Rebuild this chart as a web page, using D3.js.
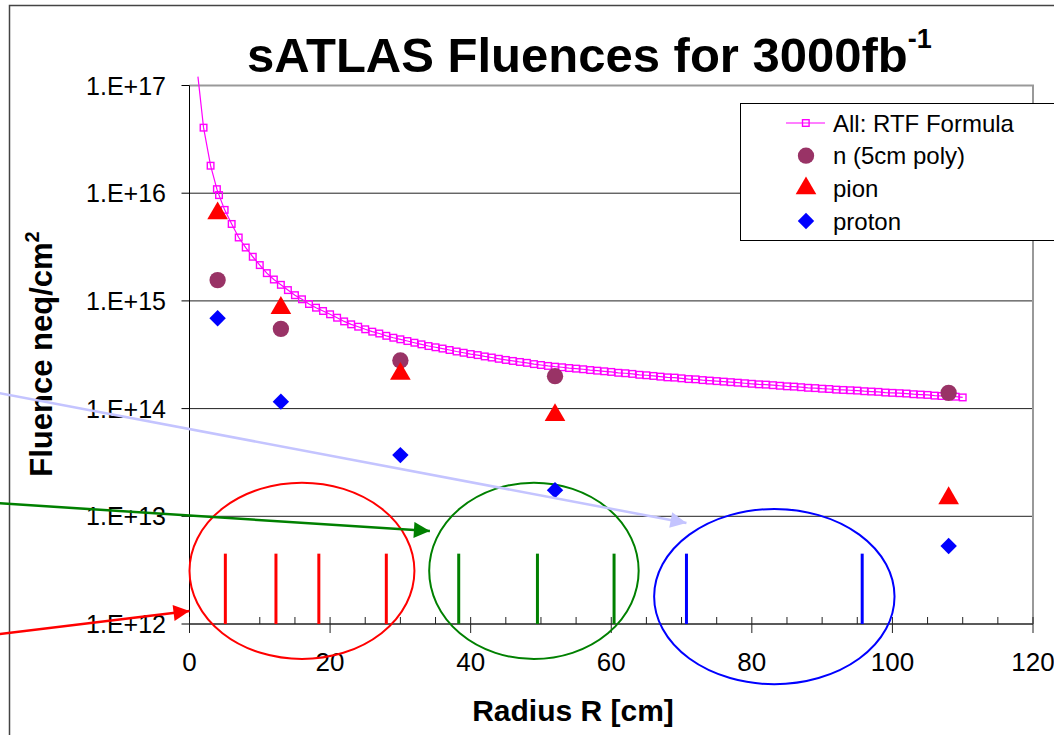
<!DOCTYPE html>
<html lang="en">
<head>
<meta charset="utf-8">
<script src="https://d3js.org/d3.v7.min.js"></script>
<style>
    body { margin: 0; background: #fff; }
    svg text { font-family: "Liberation Sans", Arial, sans-serif; }
</style>
</head>
<body>
<svg id="chart" width="1054" height="735"></svg>
<script>
    // RTF formula curve (radius in cm, fluence in neq/cm^2)
    var rtfR = [1.2, 2, 3, 3.9, 4.2, 5, 6, 7, 8, 9, 10, 11, 12, 13, 14, 15, 16, 17, 18, 19, 20,
        21, 22, 23, 24, 25, 26, 27, 28, 29, 30, 31, 32, 33, 34, 35, 36, 37, 38, 39, 40,
        41, 42, 43, 44, 45, 46, 47, 48, 49, 50, 51, 52, 53, 54, 55, 56, 57, 58, 59, 60,
        61, 62, 63, 64, 65, 66, 67, 68, 69, 70, 71, 72, 73, 74, 75, 76, 77, 78, 79, 80,
        81, 82, 83, 84, 85, 86, 87, 88, 89, 90, 91, 92, 93, 94, 95, 96, 97, 98, 99, 100,
        101, 102, 103, 104, 105, 106, 107, 108, 109, 110];
    var rtfFluence = [1.21e17, 4.06e16, 1.80e16, 1.09e16, 9.6e15, 7.0e15, 5.18e15, 3.88e15, 3.13e15, 2.57e15, 2.15e15,
        1.81e15, 1.58e15, 1.41e15, 1.26e15, 1.13e15, 1.035e15, 9.36e14, 8.65e14, 8.06e14, 7.51e14,
        6.98e14, 6.45e14, 6.06e14, 5.76e14, 5.45e14, 5.18e14, 4.98e14, 4.74e14, 4.55e14, 4.40e14,
        4.24e14, 4.09e14, 3.95e14, 3.81e14, 3.71e14, 3.61e14, 3.50e14, 3.39e14, 3.30e14, 3.21e14,
        3.14e14, 3.05e14, 2.98e14, 2.90e14, 2.83e14, 2.77e14, 2.71e14, 2.66e14, 2.59e14, 2.54e14,
        2.49e14, 2.45e14, 2.42e14, 2.38e14, 2.35e14, 2.32e14, 2.28e14, 2.25e14, 2.22e14, 2.19e14,
        2.15e14, 2.13e14, 2.10e14, 2.06e14, 2.04e14, 2.01e14, 1.98e14, 1.95e14, 1.94e14, 1.91e14,
        1.88e14, 1.87e14, 1.84e14, 1.82e14, 1.80e14, 1.78e14, 1.76e14, 1.74e14, 1.72e14, 1.70e14,
        1.68e14, 1.67e14, 1.65e14, 1.63e14, 1.61e14, 1.60e14, 1.58e14, 1.56e14, 1.55e14, 1.53e14,
        1.52e14, 1.50e14, 1.49e14, 1.48e14, 1.47e14, 1.45e14, 1.44e14, 1.43e14, 1.41e14, 1.40e14,
        1.39e14, 1.38e14, 1.36e14, 1.35e14, 1.34e14, 1.32e14, 1.31e14, 1.30e14, 1.29e14, 1.27e14];

    // measured points
    var pointR = [4, 13, 30, 52, 108];
    var neutron = [1.56e15, 5.5e14, 2.8e14, 2.0e14, 1.4e14];
    var pion = [6.5e15, 8.6e14, 2.1e14, 8.7e13, 1.47e13];
    var proton = [6.9e14, 1.16e14, 3.7e13, 1.75e13, 5.3e12];

    // detector layer radii
    var redLayers = [5.1, 12.3, 18.4, 28.0];
    var greenLayers = [38.3, 49.5, 60.4];
    var blueLayers = [70.7, 95.7];
    var layerTop = 4.5e12;

    // ellipses: [x0, x1, fluenceLow, fluenceHigh]
    var ellipseBoxes = [
        {color: "red", box: [0, 32, 4.73e11, 2.05e13]},
        {color: "green", box: [34.1, 63.9, 4.73e11, 2.05e13]},
        {color: "blue", box: [66.1, 100.3, 2.76e11, 1.17e13]}
    ];

    // arrows: from [r, fluence] to [r, fluence]
    var arrows = [
        {color: "#c4c4ff", from: [-27, 1.39e14], to: [70.7, 8.67e12]},
        {color: "green", from: [-27, 1.32e13], to: [34.2, 7.31e12]},
        {color: "red", from: [-27, 8.07e11], to: [0, 1.32e12]}
    ];

    var yTicks = [1e12, 1e13, 1e14, 1e15, 1e16, 1e17];
    var yTickLabels = ["1.E+12", "1.E+13", "1.E+14", "1.E+15", "1.E+16", "1.E+17"];
    var xTicks = [0, 20, 40, 60, 80, 100, 120];
    var xMinor = [5, 10, 15, 25, 30, 35, 45, 50, 55, 65, 70, 75, 85, 90, 95, 105, 110, 115];

    var legendItems = ["All: RTF Formula", "n (5cm poly)", "pion", "proton"];

    var svg = d3.select("#chart");
    var plot = {left: 189.5, right: 1033, top: 85.5, bottom: 624};

    var x = d3.scaleLinear().domain([0, 120]).range([plot.left, plot.right]);
    var y = d3.scaleLog().domain([1e12, 1e17]).range([plot.bottom, plot.top]);

    // outer chart frame
    svg.append("path")
        .attr("d", "M9.5,740 L9.5,5.5 L1060,5.5")
        .attr("fill", "none")
        .attr("stroke", "#444")
        .attr("stroke-width", 1.5);

    // title
    var title = svg.append("text")
        .attr("x", 247)
        .attr("y", 72)
        .style("font-size", "49px")
        .style("font-weight", "bold")
        .text("sATLAS Fluences for 3000fb");
    title.append("tspan")
        .attr("dy", -24)
        .style("font-size", "27px")
        .text("-1");

    // gridlines
    svg.append("g")
        .selectAll("line")
        .data(yTicks.slice(0, -1))
        .join("line")
        .attr("x1", plot.left)
        .attr("x2", plot.right)
        .attr("y1", d => y(d))
        .attr("y2", d => y(d))
        .attr("stroke", "#222")
        .attr("stroke-width", 1);

    // top and right border
    svg.append("path")
        .attr("d", "M" + plot.left + "," + y(1e17) + " L" + plot.right + "," + y(1e17) + " L" + plot.right + "," + plot.bottom)
        .attr("fill", "none")
        .attr("stroke", "#999")
        .attr("stroke-width", 2);

    // y axis
    svg.append("line")
        .attr("x1", plot.left).attr("x2", plot.left)
        .attr("y1", plot.top).attr("y2", plot.bottom)
        .attr("stroke", "#000");
    svg.append("g")
        .selectAll("line")
        .data(yTicks)
        .join("line")
        .attr("x1", plot.left - 8)
        .attr("x2", plot.left)
        .attr("y1", d => y(d))
        .attr("y2", d => y(d))
        .attr("stroke", "#000");
    svg.append("g")
        .selectAll("text")
        .data(yTicks)
        .join("text")
        .attr("x", 166)
        .attr("y", d => y(d) + 9)
        .attr("text-anchor", "end")
        .style("font-size", "25px")
        .text((d, i) => yTickLabels[i]);

    // x axis
    svg.append("line")
        .attr("x1", plot.left).attr("x2", plot.right)
        .attr("y1", plot.bottom).attr("y2", plot.bottom)
        .attr("stroke", "#222");
    svg.append("g")
        .selectAll("line")
        .data(xTicks)
        .join("line")
        .attr("x1", d => x(d))
        .attr("x2", d => x(d))
        .attr("y1", plot.bottom - 7)
        .attr("y2", plot.bottom + 9)
        .attr("stroke", "#222");
    svg.append("g")
        .selectAll("line")
        .data(xMinor)
        .join("line")
        .attr("x1", d => x(d))
        .attr("x2", d => x(d))
        .attr("y1", plot.bottom - 7)
        .attr("y2", plot.bottom)
        .attr("stroke", "#222");
    svg.append("g")
        .selectAll("text")
        .data(xTicks)
        .join("text")
        .attr("x", d => x(d))
        .attr("y", 671)
        .attr("text-anchor", "middle")
        .style("font-size", "26px")
        .text(d => d);

    // axis titles
    svg.append("text")
        .attr("x", 573)
        .attr("y", 721)
        .attr("text-anchor", "middle")
        .style("font-size", "30px")
        .style("font-weight", "bold")
        .text("Radius R [cm]");

    var ylab = svg.append("text")
        .attr("transform", "translate(52,354) rotate(-90)")
        .attr("text-anchor", "middle")
        .style("font-size", "31px")
        .style("font-weight", "bold")
        .text("Fluence neq/cm");
    ylab.append("tspan")
        .attr("dy", -13)
        .style("font-size", "20px")
        .text("2");

    // layer lines
    var layers = [
        {color: "red", r: redLayers},
        {color: "green", r: greenLayers},
        {color: "blue", r: blueLayers}
    ];
    layers.forEach(function(l) {
        svg.append("g")
            .selectAll("line")
            .data(l.r)
            .join("line")
            .attr("x1", d => x(d))
            .attr("x2", d => x(d))
            .attr("y1", y(1e12))
            .attr("y2", y(layerTop))
            .attr("stroke", l.color)
            .attr("stroke-width", 3);
    });

    // ellipses
    svg.append("g")
        .selectAll("ellipse")
        .data(ellipseBoxes)
        .join("ellipse")
        .attr("cx", d => (x(d.box[0]) + x(d.box[1])) / 2)
        .attr("cy", d => (y(d.box[2]) + y(d.box[3])) / 2)
        .attr("rx", d => (x(d.box[1]) - x(d.box[0])) / 2)
        .attr("ry", d => (y(d.box[2]) - y(d.box[3])) / 2)
        .attr("fill", "none")
        .attr("stroke", d => d.color)
        .attr("stroke-width", 2);

    // RTF curve
    var rtf = rtfR.map((r, i) => ({r: r, f: rtfFluence[i]}));
    var line = d3.line()
        .x(d => x(d.r))
        .y(d => y(d.f));
    svg.append("path")
        .attr("d", line(rtf))
        .attr("fill", "none")
        .attr("stroke", "#ff00ff")
        .attr("stroke-width", 1.2);
    svg.append("g")
        .selectAll("rect")
        .data(rtf.filter(d => d.f <= 1e17))
        .join("rect")
        .attr("x", d => x(d.r) - 3.3)
        .attr("y", d => y(d.f) - 3.3)
        .attr("width", 6.6)
        .attr("height", 6.6)
        .attr("fill", "none")
        .attr("stroke", "#ff00ff")
        .attr("stroke-width", 1.4);

    // measured points
    var circleSym = d3.symbol().type(d3.symbolCircle).size(210);
    var triSym = d3.symbol().type(d3.symbolTriangle).size(185);
    var diaSym = d3.symbol().type(d3.symbolSquare).size(135);

    function points(values, sym, color, rot) {
        svg.append("g")
            .selectAll("path")
            .data(values)
            .join("path")
            .attr("d", sym)
            .attr("transform", (d, i) => "translate(" + x(pointR[i]) + "," + y(d) + ")" + (rot ? " rotate(45)" : ""))
            .attr("fill", color);
    }
    points(neutron, circleSym, "#993366", false);
    points(pion, triSym, "#ff0000", false);
    points(proton, diaSym, "#0000ff", true);

    // arrows
    var defs = svg.append("defs");
    arrows.forEach(function(a, i) {
        defs.append("marker")
            .attr("id", "arrow" + i)
            .attr("viewBox", "0 0 10 10")
            .attr("refX", 10)
            .attr("refY", 5)
            .attr("markerUnits", "userSpaceOnUse")
            .attr("markerWidth", 18)
            .attr("markerHeight", 16)
            .attr("orient", "auto")
            .append("path")
            .attr("d", "M0,0 L10,5 L0,10 Z")
            .attr("fill", a.color);
        svg.append("line")
            .attr("x1", x(a.from[0]))
            .attr("y1", y(a.from[1]))
            .attr("x2", x(a.to[0]))
            .attr("y2", y(a.to[1]))
            .attr("stroke", a.color)
            .attr("stroke-width", 2.5)
            .attr("marker-end", "url(#arrow" + i + ")");
    });

    // legend
    var lg = svg.append("g");
    lg.append("rect")
        .attr("x", 740.5)
        .attr("y", 103.5)
        .attr("width", 330)
        .attr("height", 137)
        .attr("fill", "#fff")
        .attr("stroke", "#000");
    var rowY = d3.scaleLinear().domain([0, 3]).range([123, 221]);
    lg.append("line")
        .attr("x1", 786).attr("x2", 825)
        .attr("y1", rowY(0)).attr("y2", rowY(0))
        .attr("stroke", "#ff00ff")
        .attr("stroke-width", 1.2);
    lg.append("rect")
        .attr("x", 802.5).attr("y", rowY(0) - 3.3)
        .attr("width", 6.6).attr("height", 6.6)
        .attr("fill", "none")
        .attr("stroke", "#ff00ff")
        .attr("stroke-width", 1.4);
    lg.append("path").attr("d", circleSym).attr("fill", "#993366")
        .attr("transform", "translate(806," + rowY(1) + ")");
    lg.append("path").attr("d", triSym).attr("fill", "#ff0000")
        .attr("transform", "translate(806," + rowY(2) + ")");
    lg.append("path").attr("d", diaSym).attr("fill", "#0000ff")
        .attr("transform", "translate(806," + rowY(3) + ") rotate(45)");
    lg.selectAll("text.leg")
        .data(legendItems)
        .join("text")
        .attr("class", "leg")
        .attr("x", 833)
        .attr("y", (d, i) => rowY(i) + 8.5)
        .style("font-size", "24px")
        .text(d => d);
</script>
</body>
</html>
